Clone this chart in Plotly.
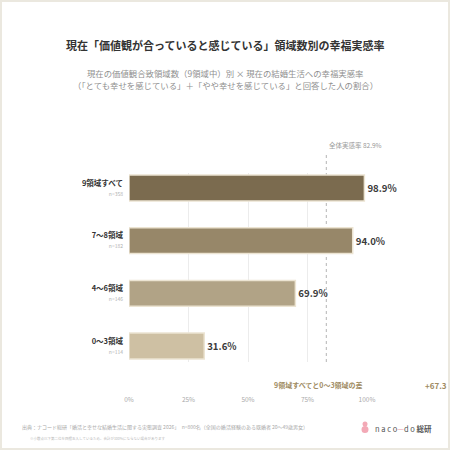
import plotly.graph_objects as go

categories = ["9領域すべて", "7〜8領域", "4〜6領域", "0〜3領域"]
sample_sizes = ["n=358", "n=182", "n=146", "n=114"]
rates = [98.9, 94.0, 69.9, 31.6]
overall_rate = 82.9
diff_label = "9領域すべてと0〜3領域の差"
diff_value = "+67.3"
tick_vals = [0, 25, 50, 75, 100]
tick_text = ["0%", "25%", "50%", "75%", "100%"]

colors = ["#7b6b4f", "#978769", "#b1a386", "#cec0a3"]
FONT = "Noto Sans CJK JP"

# plot area pixel geometry
L, R, T, B = 129, 367, 173, 362
H = B - T
W = R - L

def py(Y):
    return (B - Y) / H

def px(X):
    return (X - L) / W

ypos = list(range(len(categories)))
ticklabels = [f"<b>{c}</b><br><span style='font-size:5px;color:#b0b0b0'>{n}</span>"
              for c, n in zip(categories, sample_sizes)]

fig = go.Figure()
fig.add_trace(go.Bar(
    x=rates, y=ypos, orientation="h",
    marker=dict(color=colors, line=dict(color="#ece4d2", width=1.5)),
    width=0.49,
    text=[f"<b>{v:.1f}%</b>" for v in rates],
    textposition="outside",
    textfont=dict(size=9.6, color="#3a3a3a", family=FONT),
    cliponaxis=False,
    hoverinfo="skip",
))

# overall dashed line
fig.add_shape(type="line", xref="x", yref="paper", x0=overall_rate, x1=overall_rate,
              y0=0, y1=py(153), line=dict(color="#b5b5b5", width=1, dash="dot"), layer="below")
fig.add_annotation(x=overall_rate, y=py(152), xref="x", yref="paper",
                   text=f"全体実感率 {overall_rate}%", showarrow=False,
                   xanchor="left", yanchor="bottom", xshift=1,
                   font=dict(size=6.5, color="#9a9a9a", family=FONT))

annos = [
    dict(x=0.5 * (px(0) + px(450)), y=py(45), text="<b>現在「価値観が合っていると感じている」領域数別の幸福実感率</b>",
         font=dict(size=11, color="#333333", family=FONT)),
    dict(x=0.5 * (px(0) + px(450)), y=py(73), text="現在の価値観合致領域数（9領域中）別 × 現在の結婚生活への幸福実感率",
         font=dict(size=8.4, color="#8f8f8f", family=FONT)),
    dict(x=0.5 * (px(0) + px(450)), y=py(85), text="（「とても幸せを感じている」＋「やや幸せを感じている」と回答した人の割合）",
         font=dict(size=8.4, color="#8f8f8f", family=FONT)),
    dict(x=px(365), y=py(385), text=f"<b>{diff_label}</b>", xanchor="right",
         font=dict(size=7, color="#a08b62", family=FONT)),
    dict(x=px(449), y=py(385), text=f"<b>{diff_value}</b>", xanchor="right",
         font=dict(size=8, color="#a08b62", family=FONT)),
    dict(x=px(20), y=py(427), xanchor="left",
         text="出典：ナコード総研「婚活と幸せな結婚生活に関する実態調査 2026」　n=800名（全国の婚活経験のある既婚者 20〜49歳男女）",
         font=dict(size=5, color="#a8a8a8", family=FONT)),
    dict(x=px(28), y=py(438), xanchor="left",
         text="※小数点以下第二位を四捨五入しているため、合計が100%にならない場合があります",
         font=dict(size=3.5, color="#b8b8b8", family=FONT)),
    dict(x=px(373), y=py(428), xanchor="left",
         text="n a c o<span style='color:#e890a0'>—</span>d o <b>総研</b>",
         font=dict(size=7.5, color="#555555", family=FONT)),
]
for a in annos:
    a.setdefault("xanchor", "center")
    fig.add_annotation(xref="paper", yref="paper", showarrow=False, yanchor="middle", **a)

# logo icon (two small pink circles)
fig.add_shape(type="circle", xref="paper", yref="paper", x0=px(362.5), x1=px(367.5), y0=py(426.5), y1=py(421.5),
              fillcolor="#f3a9b6", line=dict(width=0))
fig.add_shape(type="circle", xref="paper", yref="paper", x0=px(361.5), x1=px(368.5), y0=py(433), y1=py(426),
              fillcolor="#f3a9b6", line=dict(width=0))

# frame
fig.add_shape(type="rect", xref="paper", yref="paper", x0=px(1), x1=px(449), y0=py(449), y1=py(1),
              line=dict(color="#ebe8df", width=2), fillcolor="rgba(0,0,0,0)", layer="below")

fig.update_layout(
    width=450, height=450,
    margin=dict(l=L, r=450 - R, t=T, b=450 - B),
    paper_bgcolor="white", plot_bgcolor="white",
    showlegend=False,
    font=dict(family=FONT),
    xaxis=dict(range=[0, 100], tickvals=tick_vals, ticktext=tick_text,
               showgrid=True, gridcolor="#ececec", gridwidth=1, zeroline=False,
               showline=False, ticks="", ticklabelstandoff=32,
               tickfont=dict(size=6.5, color="#aaaaaa", family=FONT), fixedrange=True),
    yaxis=dict(range=[3 + (B - 346) / 52.67, -(188 - T) / 52.67],
               tickvals=ypos, ticktext=ticklabels, showgrid=False, zeroline=False,
               ticks="", ticklabelstandoff=5,
               tickfont=dict(size=7.5, color="#333333", family=FONT), fixedrange=True),
    bargap=0.5,
)

fig.write_html("out.html")
